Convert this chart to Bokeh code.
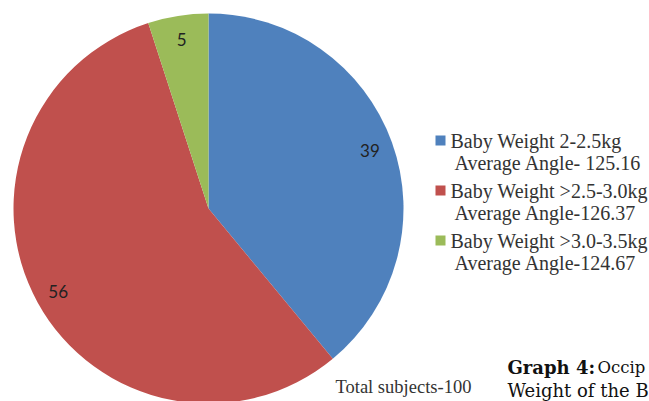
import math
from bokeh.plotting import figure
from bokeh.models import Range1d
from bokeh.core.properties import value
from bokeh.embed import file_html
from bokeh.resources import INLINE

categories = ["Baby Weight 2-2.5kg", "Baby Weight >2.5-3.0kg", "Baby Weight >3.0-3.5kg"]
angle_labels = ["Average Angle- 125.16", "Average Angle-126.37", "Average Angle-124.67"]
counts = [39, 56, 5]
colors = ["#4F81BD", "#C0504D", "#9BBB59"]
total_label = "Total subjects-100"
caption_bold = "Graph 4:"
caption_rest = "Occip"
caption_line2 = "Weight of the B"

W, H = 649, 401
p = figure(width=W, height=H, output_backend="svg", toolbar_location=None,
           x_range=Range1d(0, W), y_range=Range1d(0, H), min_border=0)
p.axis.visible = False
p.grid.visible = False
p.outline_line_color = None
p.background_fill_color = "white"
p.border_fill_color = "white"

cx, cy, R = 208, H - 208, 195
total = sum(counts)
starts, ends, mids = [], [], []
a = math.pi / 2
for c in counts:
    span = 2 * math.pi * c / total
    starts.append(a)
    ends.append(a - span)
    mids.append(a - span / 2)
    a -= span

p.wedge(x=[cx] * 3, y=[cy] * 3, radius=R, start_angle=starts, end_angle=ends,
        direction="clock", fill_color=colors, line_color=None)

lr = 0.88 * R
p.text(x=[cx + lr * math.cos(m) for m in mids], y=[cy + lr * math.sin(m) for m in mids],
       text=[str(c) for c in counts], text_align="center", text_baseline="middle",
       text_font=value("Lato"), text_font_size="17px", text_color="#222222")

# legend
lx, ly0, step = 440, H - 140, 50
ys = [ly0 - i * step for i in range(3)]
p.scatter(x=[lx] * 3, y=ys, marker="square", size=10, fill_color=colors, line_color=None)
p.text(x=[lx + 10] * 3, y=ys, text=categories, text_baseline="middle",
       text_font=value("Liberation Serif"), text_font_size="20px", text_color="#333333")
p.text(x=[lx + 14] * 3, y=[y - 22 for y in ys], text=angle_labels, text_baseline="middle",
       text_font=value("Liberation Serif"), text_font_size="20px", text_color="#333333")

p.text(x=[335], y=[H - 386], text=[total_label], text_baseline="middle",
       text_font=value("Liberation Serif"), text_font_size="18.5px", text_color="#333333")

p.text(x=[507], y=[H - 367], text=[caption_bold], text_baseline="alphabetic",
       text_font=value("DejaVu Serif"), text_font_size="18px", text_font_style="bold",
       text_color="#111111")
p.text(x=[597], y=[H - 367], text=[caption_rest], text_baseline="alphabetic",
       text_font=value("DejaVu Serif"), text_font_size="16.5px", text_color="#111111")
p.text(x=[507], y=[H - 390], text=[caption_line2], text_baseline="alphabetic",
       text_font=value("DejaVu Serif"), text_font_size="18px", text_color="#111111")

open("out.html", "w").write(file_html(p, INLINE))
